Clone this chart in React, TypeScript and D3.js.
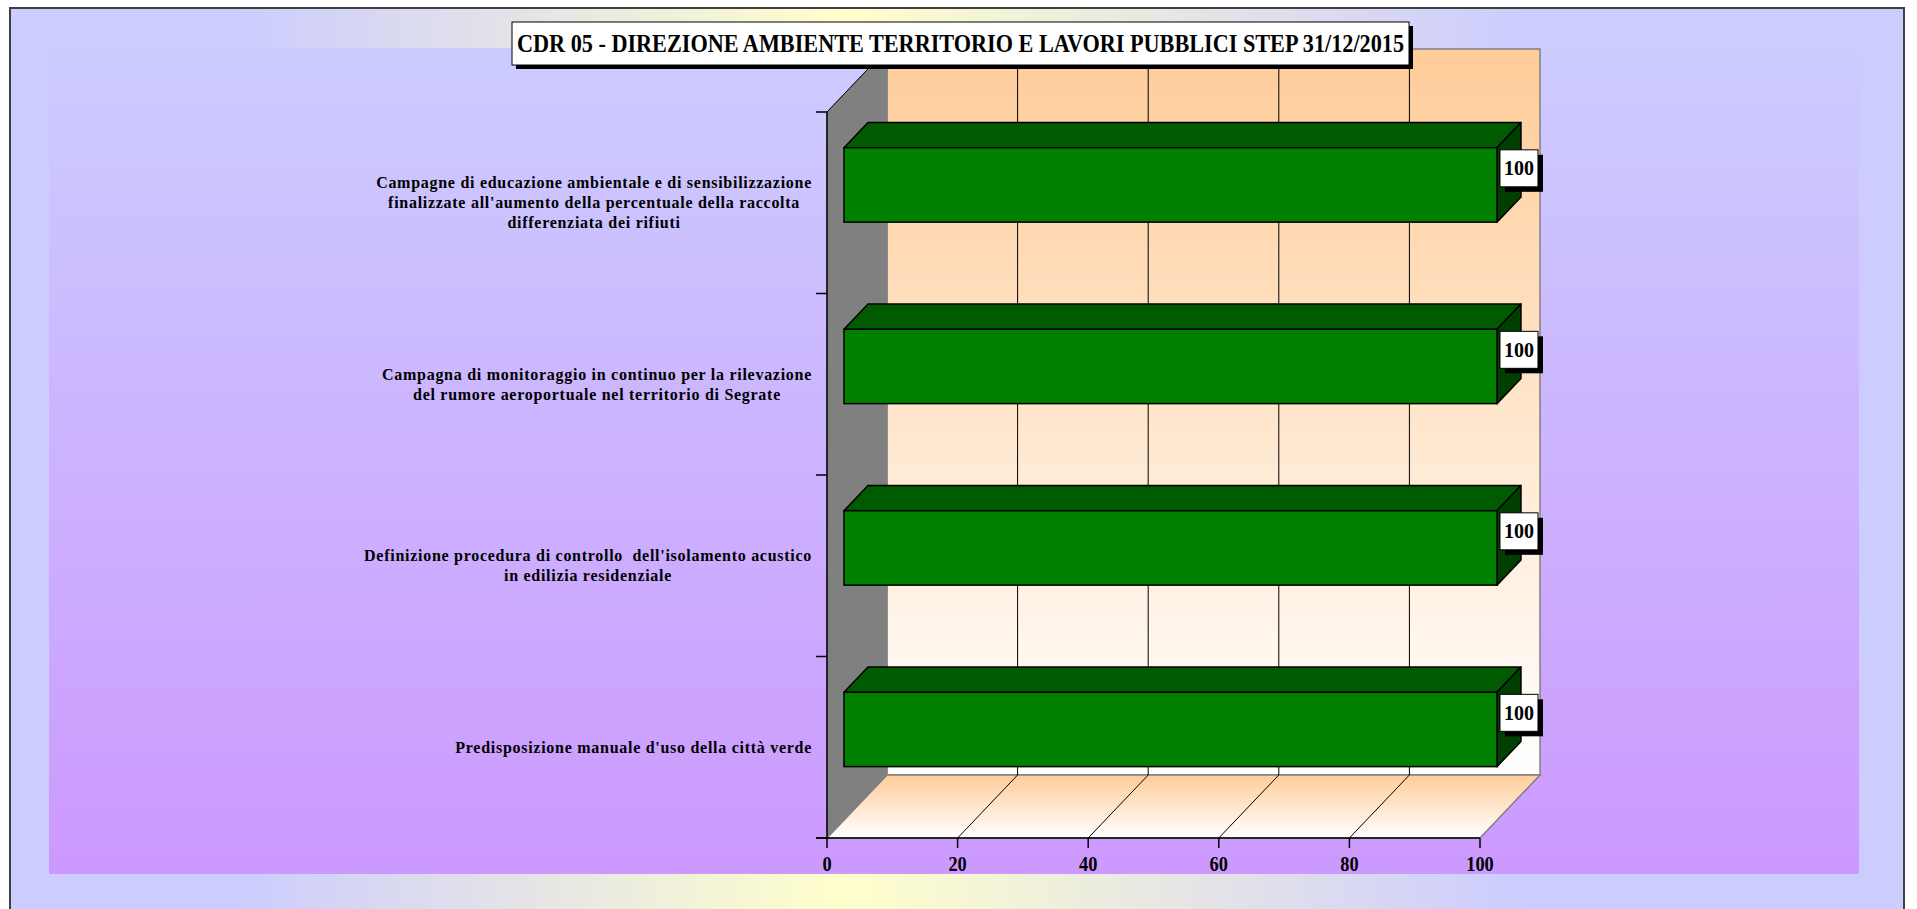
import React, { useEffect, useRef } from "react";
import * as d3 from "d3";

const title = "CDR 05 - DIREZIONE AMBIENTE TERRITORIO E LAVORI PUBBLICI STEP 31/12/2015";
const categories = [
  "Campagne di educazione ambientale e di sensibilizzazione\nfinalizzate all'aumento della percentuale della raccolta\ndifferenziata dei rifiuti",
  "Campagna di monitoraggio in continuo per la rilevazione\ndel rumore aeroportuale nel territorio di Segrate",
  "Definizione procedura di controllo  dell'isolamento acustico\nin edilizia residenziale",
  "Predisposizione manuale d'uso della città verde",
];
const values = [100, 100, 100, 100];
const xTicks = [0, 20, 40, 60, 80, 100];

const W = 1917;
const H = 909;
const FONT = "'Liberation Serif', 'Times New Roman', serif";

export default function App() {
  const ref = useRef<SVGSVGElement>(null);

  useEffect(() => {
    const svg = d3.select(ref.current);
    svg.selectAll("*").remove();

    const defs = svg.append("defs");
    const outerG = defs.append("linearGradient").attr("id", "outerG").attr("x1", "0").attr("x2", "1").attr("y1", "0").attr("y2", "0");
    outerG.append("stop").attr("offset", "0").attr("stop-color", "#ccccff");
    outerG.append("stop").attr("offset", "0.12").attr("stop-color", "#ccccff");
    outerG.append("stop").attr("offset", "0.44").attr("stop-color", "#ffffcc");
    outerG.append("stop").attr("offset", "0.8").attr("stop-color", "#ccccff");
    outerG.append("stop").attr("offset", "1").attr("stop-color", "#ccccff");

    const innerG = defs.append("linearGradient").attr("id", "innerG").attr("x1", "0").attr("x2", "0").attr("y1", "0").attr("y2", "1");
    innerG.append("stop").attr("offset", "0").attr("stop-color", "#ccccff");
    innerG.append("stop").attr("offset", "1").attr("stop-color", "#cc99ff");

    const wallG = defs.append("linearGradient").attr("id", "wallG").attr("x1", "0").attr("x2", "0").attr("y1", "0").attr("y2", "1");
    wallG.append("stop").attr("offset", "0").attr("stop-color", "#ffcc99");
    wallG.append("stop").attr("offset", "1").attr("stop-color", "#ffffff");

    const floorG = defs.append("linearGradient").attr("id", "floorG").attr("x1", "0").attr("x2", "0").attr("y1", "0").attr("y2", "1");
    floorG.append("stop").attr("offset", "0").attr("stop-color", "#ffcc99");
    floorG.append("stop").attr("offset", "1").attr("stop-color", "#ffffff");

    // outer chart area
    svg.append("rect").attr("x", 10).attr("y", 8).attr("width", 1894).attr("height", 910)
      .attr("fill", "url(#outerG)").attr("stroke", "#404040").attr("stroke-width", 2);
    // plot area
    svg.append("rect").attr("x", 49).attr("y", 48).attr("width", 1810).attr("height", 826).attr("fill", "url(#innerG)");

    // scales
    const x = d3.scaleLinear().domain([0, 100]).range([827, 1480]);
    const y = d3.scaleBand<string>().domain(categories).range([112, 838]).paddingInner(0).paddingOuter(0);
    const Dx = 60, Dy = -63;
    const y0 = y.range()[0], y1 = y.range()[1];
    const xL = x(0), xR = x(100);

    // back wall
    svg.append("rect").attr("x", xL + Dx).attr("y", y0 + Dy).attr("width", xR - xL).attr("height", y1 - y0)
      .attr("fill", "url(#wallG)").attr("stroke", "#808080").attr("stroke-width", 1.5);
    // left wall
    svg.append("polygon")
      .attr("points", [[xL, y0], [xL + Dx, y0 + Dy], [xL + Dx, y1 + Dy], [xL, y1]].map(p => p.join(",")).join(" "))
      .attr("fill", "#808080").attr("stroke", "#808080");
    // floor
    svg.append("polygon")
      .attr("points", [[xL, y1], [xL + Dx, y1 + Dy], [xR + Dx, y1 + Dy], [xR, y1]].map(p => p.join(",")).join(" "))
      .attr("fill", "url(#floorG)").attr("stroke", "#808080").attr("stroke-width", 1.5);

    // gridlines
    const inner = xTicks.filter(t => t > 0 && t < 100);
    svg.append("g").selectAll("line.bg").data(inner).join("line")
      .attr("x1", d => x(d) + Dx).attr("x2", d => x(d) + Dx).attr("y1", y0 + Dy).attr("y2", y1 + Dy)
      .attr("stroke", "#000").attr("stroke-width", 1);
    svg.append("g").selectAll("line.fg").data(inner).join("line")
      .attr("x1", d => x(d)).attr("x2", d => x(d) + Dx).attr("y1", y1).attr("y2", y1 + Dy)
      .attr("stroke", "#000").attr("stroke-width", 1);
    // top diagonal of left wall
    svg.append("line").attr("x1", xL).attr("y1", y0).attr("x2", xL + Dx).attr("y2", y0 + Dy).attr("stroke", "#000").attr("stroke-width", 1);

    // axes lines
    svg.append("line").attr("x1", xL).attr("x2", xL).attr("y1", y0).attr("y2", y1).attr("stroke", "#000").attr("stroke-width", 1.5);
    svg.append("line").attr("x1", xL - 11).attr("x2", xR).attr("y1", y1).attr("y2", y1).attr("stroke", "#000").attr("stroke-width", 1.5);
    // category ticks
    const catTicks = categories.map(c => y(c)!).concat([y1]);
    svg.append("g").selectAll("line").data(catTicks).join("line")
      .attr("x1", xL - 11).attr("x2", xL).attr("y1", d => d).attr("y2", d => d).attr("stroke", "#000").attr("stroke-width", 1.5);
    // value ticks
    svg.append("g").selectAll("line").data(xTicks).join("line")
      .attr("x1", d => x(d)).attr("x2", d => x(d)).attr("y1", y1).attr("y2", y1 + 10).attr("stroke", "#000").attr("stroke-width", 1.5);
    svg.append("g").selectAll("text").data(xTicks).join("text")
      .attr("x", d => x(d)).attr("y", y1 + 33).attr("text-anchor", "middle")
      .attr("font-family", FONT).attr("font-weight", "bold").attr("font-size", 20)
      .attr("transform", d => `translate(${x(d)},0) scale(0.92,1) translate(${-x(d)},0)`)
      .text(d => String(d));

    // bars
    const fa = 0.283, fb = 0.683;
    const barH = y.bandwidth() * 0.41;
    const bars = svg.append("g");
    categories.forEach((c, i) => {
      const v = values[i];
      const cy = y(c)! + y.bandwidth() / 2;
      const fx0 = x(0) + fa * Dx, fx1 = x(v) + fa * Dx;
      const fyT = cy + fa * Dy - barH / 2, fyB = cy + fa * Dy + barH / 2;
      const bdx = (fb - fa) * Dx, bdy = (fb - fa) * Dy;
      const pts = (a: number[][]) => a.map(p => p.join(",")).join(" ");
      bars.append("polygon").attr("points", pts([[fx0, fyT], [fx0 + bdx, fyT + bdy], [fx1 + bdx, fyT + bdy], [fx1, fyT]]))
        .attr("fill", "#005a00").attr("stroke", "#000").attr("stroke-width", 1.5).attr("stroke-linejoin", "round");
      bars.append("polygon").attr("points", pts([[fx1, fyT], [fx1 + bdx, fyT + bdy], [fx1 + bdx, fyB + bdy], [fx1, fyB]]))
        .attr("fill", "#003f00").attr("stroke", "#000").attr("stroke-width", 1.5).attr("stroke-linejoin", "round");
      bars.append("rect").attr("x", fx0).attr("y", fyT).attr("width", fx1 - fx0).attr("height", fyB - fyT)
        .attr("fill", "#008000").attr("stroke", "#000").attr("stroke-width", 1.5);
      // value label
      const bw = 38, bh = 37;
      const lx = fx1 + 3;
      const ly = cy + ((fa + fb) / 2) * Dy - 4 - bh / 2;
      bars.append("rect").attr("x", lx + 5).attr("y", ly + 5).attr("width", bw).attr("height", bh).attr("fill", "#000");
      bars.append("rect").attr("x", lx).attr("y", ly).attr("width", bw).attr("height", bh).attr("fill", "#fff").attr("stroke", "#000").attr("stroke-width", 1);
      bars.append("text").attr("x", lx + bw / 2).attr("y", ly + bh / 2 + 7)
        .attr("text-anchor", "middle")
        .attr("font-family", FONT).attr("font-weight", "bold").attr("font-size", 21)
        .attr("textLength", 30).attr("lengthAdjust", "spacingAndGlyphs")
        .text(String(v));
    });

    // category labels
    const labelRight = 812;
    const lineH = 20;
    categories.forEach(c => {
      const lines = c.split("\n");
      const cy = y(c)! + y.bandwidth() / 2;
      const g = svg.append("g");
      const texts = lines.map((ln, j) =>
        g.append("text")
          .attr("y", cy + (j - (lines.length - 1) / 2) * lineH + 5.5)
          .attr("text-anchor", "middle")
          .attr("font-family", FONT).attr("font-weight", "bold").attr("font-size", 16)
          .attr("letter-spacing", "0.72px")
          .style("white-space", "pre")
          .text(ln)
      );
      const widths = texts.map(t => (t.node() as SVGTextElement).getComputedTextLength());
      const maxW = Math.max(...widths);
      texts.forEach(t => t.attr("x", labelRight - maxW / 2));
    });

    // title
    const tb = { x: 512, y: 22, w: 897, h: 43 };
    svg.append("rect").attr("x", tb.x + 4).attr("y", tb.y + 4).attr("width", tb.w).attr("height", tb.h).attr("fill", "#000");
    svg.append("rect").attr("x", tb.x).attr("y", tb.y).attr("width", tb.w).attr("height", tb.h).attr("fill", "#fff").attr("stroke", "#000").attr("stroke-width", 1);
    svg.append("text").attr("x", tb.x + 5).attr("y", 51.5)
      .attr("font-family", FONT).attr("font-weight", "bold").attr("font-size", 25.5)
      .attr("textLength", 887).attr("lengthAdjust", "spacingAndGlyphs").text(title);
  }, []);

  return (
    <svg ref={ref} width={W} height={H} style={{ position: "absolute", left: 0, top: 0, display: "block" }} />
  );
}
